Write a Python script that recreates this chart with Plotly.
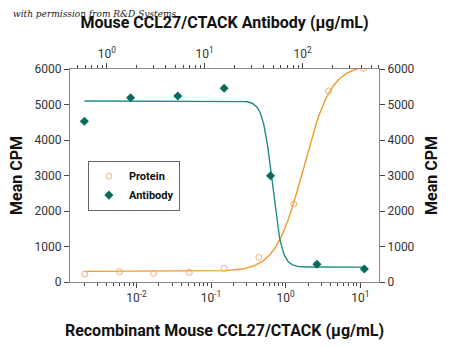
import numpy as np
import plotly.graph_objects as go

# Data
protein_conc = [0.00203, 0.00593, 0.0170, 0.0509, 0.149, 0.437, 1.28, 3.74, 10.96]   # µg/mL (bottom axis)
protein_cpm = [225, 290, 245, 273, 385, 695, 2197, 5380, 6020]
antibody_conc = [0.59, 1.75, 5.30, 15.8, 47.0, 140.0, 427.0]                         # µg/mL (top axis)
antibody_cpm = [4527, 5192, 5239, 5456, 2994, 499, 366]

# 4-parameter logistic fit parameters
protein_fit = dict(bottom=300, top=6120, logec50=0.237, hill=2.35)
antibody_fit = dict(bottom=420, top=5100, logec50=1.69, hill=-9.0)

bottom_ticks = [0.01, 0.1, 1, 10]
bottom_ticktext = ["10<sup>-2</sup>", "10<sup>-1</sup>", "10<sup>0</sup>", "10<sup>1</sup>"]
bottom_minor = [m * 10.0 ** e for e in range(-3, 2) for m in range(2, 10)]
top_ticks = [1, 10, 100]
top_ticktext = ["10<sup>0</sup>", "10<sup>1</sup>", "10<sup>2</sup>"]
top_minor = [m * 10.0 ** e for e in range(-1, 3) for m in range(2, 10)]
y_ticks = [0, 1000, 2000, 3000, 4000, 5000, 6000]

BOTTOM_RANGE = [-2.89, 1.25]
TOP_RANGE = [-0.376, 2.78]


def four_pl(logx, p):
    return p["bottom"] + (p["top"] - p["bottom"]) / (1 + 10 ** ((p["logec50"] - logx) * p["hill"]))


orange_line = "#F09A2A"
orange_marker = "#F3AE6A"
teal_line = "#1E8C84"
teal_marker = "#0A6B5C"
font_family = "Roboto, Arial, sans-serif"

lp = np.linspace(np.log10(protein_conc[0]), np.log10(protein_conc[-1]), 300)
la = np.linspace(np.log10(antibody_conc[0]), np.log10(antibody_conc[-1]), 400)

fig = go.Figure()
fig.add_trace(go.Scatter(x=10 ** lp, y=four_pl(lp, protein_fit), mode="lines",
                         line=dict(color=orange_line, width=1.4), showlegend=False,
                         hoverinfo="skip", xaxis="x", yaxis="y"))
fig.add_trace(go.Scatter(x=10 ** la, y=four_pl(la, antibody_fit), mode="lines",
                         line=dict(color=teal_line, width=1.4), showlegend=False,
                         hoverinfo="skip", xaxis="x2", yaxis="y"))
fig.add_trace(go.Scatter(x=protein_conc, y=protein_cpm, mode="markers", name="Protein",
                         marker=dict(symbol="circle-open", size=6, color=orange_marker,
                                     line=dict(width=1, color=orange_marker)),
                         xaxis="x", yaxis="y"))
fig.add_trace(go.Scatter(x=antibody_conc, y=antibody_cpm, mode="markers", name="Antibody",
                         marker=dict(symbol="diamond", size=7, color=teal_marker),
                         xaxis="x2", yaxis="y"))
# invisible traces to activate the right axis and the minor-tick axes
fig.add_trace(go.Scatter(x=[protein_conc[0]], y=[0], mode="markers", marker=dict(opacity=0),
                         showlegend=False, hoverinfo="skip", xaxis="x", yaxis="y2"))
fig.add_trace(go.Scatter(x=[protein_conc[0]], y=[0], mode="markers", marker=dict(opacity=0),
                         showlegend=False, hoverinfo="skip", xaxis="x3", yaxis="y"))
fig.add_trace(go.Scatter(x=[antibody_conc[0]], y=[0], mode="markers", marker=dict(opacity=0),
                         showlegend=False, hoverinfo="skip", xaxis="x4", yaxis="y"))

axis_color = "#8a8a8a"
tick_color = "#444444"
tickfont = dict(family=font_family, size=12, color="#333333")
titlefont = dict(family=font_family, size=16, color="#111111", weight="bold")

fig.update_layout(
    width=450, height=349,
    margin=dict(l=70, r=69, t=69, b=67),
    paper_bgcolor="white", plot_bgcolor="white",
    showlegend=True,
    legend=dict(x=0.058, y=0.57, xanchor="left", yanchor="top",
                bordercolor="#666666", borderwidth=1, bgcolor="white",
                font=dict(family=font_family, size=11, color="#111111", weight="bold"),
                itemwidth=30, tracegroupgap=2),
    xaxis=dict(type="log", range=BOTTOM_RANGE, tickmode="array", tickvals=bottom_ticks,
               ticktext=bottom_ticktext,
               ticks="outside", ticklen=5, tickwidth=1, tickcolor=tick_color, showgrid=False,
               zeroline=False, showline=True, linecolor=axis_color, linewidth=1, tickfont=tickfont,
               title=dict(text="Recombinant Mouse CCL27/CTACK (μg/mL)", font=titlefont, standoff=20)),
    xaxis3=dict(type="log", range=BOTTOM_RANGE, overlaying="x", side="bottom", anchor="y",
                tickmode="array", tickvals=bottom_minor, ticktext=[""] * len(bottom_minor),
                ticks="outside", ticklen=3, tickwidth=1, tickcolor=tick_color, showgrid=False,
                zeroline=False, showline=False),
    xaxis2=dict(type="log", range=TOP_RANGE, overlaying="x", side="top", anchor="y",
                tickmode="array", tickvals=top_ticks, ticktext=top_ticktext,
                ticks="outside", ticklen=5, tickwidth=1, tickcolor=tick_color, showgrid=False,
                zeroline=False, showline=True, linecolor=axis_color, linewidth=1, tickfont=tickfont,
                title=dict(text="Mouse CCL27/CTACK Antibody (μg/mL)", font=titlefont, standoff=12)),
    xaxis4=dict(type="log", range=TOP_RANGE, overlaying="x", side="top", anchor="y",
                tickmode="array", tickvals=top_minor, ticktext=[""] * len(top_minor),
                ticks="outside", ticklen=3, tickwidth=1, tickcolor=tick_color, showgrid=False,
                zeroline=False, showline=False),
    yaxis=dict(range=[0, 6000], tickvals=y_ticks, ticks="outside", ticklen=5, tickwidth=1,
               tickcolor=tick_color,
               showgrid=False, zeroline=False, showline=True, linecolor=axis_color, linewidth=1,
               tickfont=tickfont,
               title=dict(text="Mean CPM", font=titlefont, standoff=8)),
    yaxis2=dict(range=[0, 6000], tickvals=y_ticks, overlaying="y", side="right", anchor="x",
                ticks="outside", ticklen=5, tickwidth=1, tickcolor=tick_color,
                showgrid=False, zeroline=False, showline=True, linecolor=axis_color, linewidth=1,
                tickfont=tickfont,
                title=dict(text="Mean CPM", font=titlefont, standoff=12)),
)

fig.add_annotation(text="with permission from R&D Systems", xref="paper", yref="paper",
                   x=-0.19, y=1.26, xanchor="left", yanchor="middle", showarrow=False,
                   font=dict(family="DejaVu Serif, Liberation Serif, serif", size=9, color="#222222",
                             style="italic"))

fig.write_html("out.html")
